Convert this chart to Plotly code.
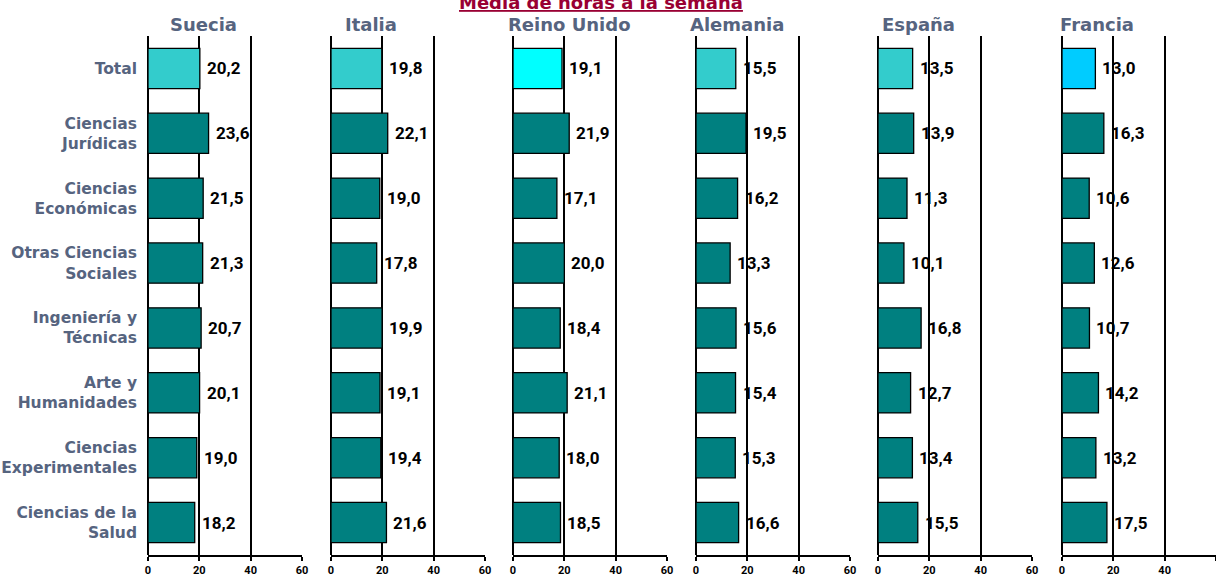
import plotly.graph_objects as go

categories = ["Total", "Ciencias<br>Jurídicas", "Ciencias<br>Económicas", "Otras Ciencias<br>Sociales",
              "Ingeniería y<br>Técnicas", "Arte y<br>Humanidades", "Ciencias<br>Experimentales",
              "Ciencias de la<br>Salud"]
countries = ["Suecia", "Italia", "Reino Unido", "Alemania", "España", "Francia"]
suecia = [20.2, 23.6, 21.5, 21.3, 20.7, 20.1, 19.0, 18.2]
italia = [19.8, 22.1, 19.0, 17.8, 19.9, 19.1, 19.4, 21.6]
reino_unido = [19.1, 21.9, 17.1, 20.0, 18.4, 21.1, 18.0, 18.5]
alemania = [15.5, 19.5, 16.2, 13.3, 15.6, 15.4, 15.3, 16.6]
espana = [13.5, 13.9, 11.3, 10.1, 16.8, 12.7, 13.4, 15.5]
francia = [13.0, 16.3, 10.6, 12.6, 10.7, 14.2, 13.2, 17.5]
series = [suecia, italia, reino_unido, alemania, espana, francia]
total_colors = ["#33CCCC", "#33CCCC", "#00FFFF", "#33CCCC", "#33CCCC", "#00CCFF"]
bar_color = "#008080"
x_ticks = [0, 20, 40, 60]
title = "Media de horas a la semana"

W, H = 1216, 576
TOP, BOT = 36, 555
panel_left = [148, 331, 513, 696, 878, 1062]
panel_w = 154
title_cx = [203, 371, 569, 737, 918, 1097]

label_color = "#56647F"
narrow = "Roboto, Liberation Sans, Arial"

def py(p):
    return (BOT - p) / (BOT - TOP)

fig = go.Figure()
annotations = []
layout = dict(
    width=W, height=H,
    margin=dict(l=0, r=0, t=TOP, b=H - BOT, autoexpand=False),
    paper_bgcolor="white", plot_bgcolor="white",
    showlegend=False,
)

for i, (name, vals) in enumerate(zip(countries, series)):
    xa = "x" if i == 0 else f"x{i+1}"
    xkey = "xaxis" if i == 0 else f"xaxis{i+1}"
    colors = [total_colors[i]] + [bar_color] * (len(vals) - 1)
    fig.add_trace(go.Bar(
        x=vals, y=categories, orientation="h", xaxis=xa, yaxis="y",
        marker=dict(color=colors, line=dict(color="black", width=1.3)),
        width=0.62, hoverinfo="skip",
    ))
    layout[xkey] = dict(
        domain=[panel_left[i] / W, (panel_left[i] + panel_w) / W],
        range=[0, 60], tickvals=x_ticks, ticktext=[str(t) for t in x_ticks],
        showgrid=True, gridcolor="black", gridwidth=1.5,
        zeroline=True, zerolinecolor="black", zerolinewidth=2,
        showline=True, linecolor="black", linewidth=2,
        ticks="outside", ticklen=4, tickcolor="black", tickwidth=1.5,
        tickfont=dict(family=narrow, size=11, color="black", weight="bold"),
        anchor="y", fixedrange=True,
    )
    for v, c in zip(vals, categories):
        annotations.append(dict(
            x=v, y=c, xref=xa, yref="y", xanchor="left", yanchor="middle",
            xshift=5, showarrow=False, text=f"{v:.1f}".replace(".", ","),
            font=dict(family=narrow, size=17, color="black", weight="bold"),
        ))
    annotations.append(dict(
        x=title_cx[i] / W, y=py(24), xref="paper", yref="paper",
        xanchor="center", yanchor="middle", showarrow=False, text=name,
        font=dict(family="DejaVu Sans, Verdana", size=18, color=label_color, weight="bold"),
    ))

annotations.append(dict(
    x=601 / W, y=py(15), xref="paper", yref="paper", xanchor="center", yanchor="bottom",
    showarrow=False, text=f"<u>{title}</u>",
    font=dict(family="DejaVu Sans, Verdana", size=18, color="#990033", weight="bold"),
))

layout["yaxis"] = dict(
    domain=[0, 1], type="category", categoryorder="array", categoryarray=categories,
    range=[len(categories) - 0.5, -0.5], showgrid=False, zeroline=False, showline=False,
    ticks="", ticklabelstandoff=10, anchor="x",
    tickfont=dict(family="DejaVu Sans, Verdana", size=15.5, color=label_color, weight="bold"),
    fixedrange=True,
)
layout["annotations"] = annotations
fig.update_layout(**layout)
fig.write_html("out.html", config={"displayModeBar": False},
               post_script="document.body.style.margin='0';document.body.style.overflow='hidden';")
